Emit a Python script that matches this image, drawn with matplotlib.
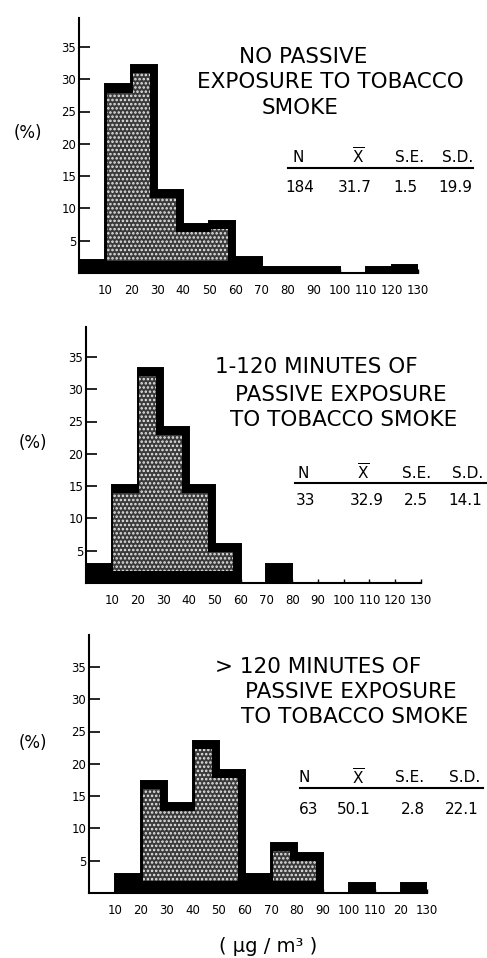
import numpy as np
import matplotlib.pyplot as plt
from matplotlib.lines import Line2D

# bin edges in ug/m3, values are % of subjects per bin
edges = [0, 10, 20, 30, 40, 50, 60, 70, 80, 90, 100, 110, 120, 130]
no_exposure = [2.0, 29.2, 32.2, 12.9, 7.6, 8.1, 2.5, 1.0, 1.0, 1.0, 0.0, 0.9, 1.2]
short_exposure = [3.0, 15.2, 33.3, 24.2, 15.2, 6.1, 0.0, 3.0, 0.0, 0.0, 0.0, 0.0, 0.0]
long_exposure = [0.0, 3.0, 17.4, 14.0, 23.6, 19.1, 3.0, 7.8, 6.2, 0.0, 1.6, 0.0, 1.6]

yticks = [5, 10, 15, 20, 25, 30, 35]
xticks = [10, 20, 30, 40, 50, 60, 70, 80, 90, 100, 110, 120, 130]
xlabels_top = ['10', '20', '30', '40', '50', '60', '70', '80', '90', '100', '110', '120', '130']
xlabels_last = ['10', '20', '30', '40', '50', '60', '70', '80', '90', '100', '110', '20', '130']

titles = [
    ['NO PASSIVE', 'EXPOSURE TO TOBACCO', 'SMOKE'],
    ['1-120 MINUTES OF', 'PASSIVE EXPOSURE', 'TO TOBACCO SMOKE'],
    ['> 120 MINUTES OF', 'PASSIVE EXPOSURE', 'TO TOBACCO SMOKE'],
]
stat_heads = ['N', r'$\overline{\mathrm{X}}$', 'S.E.', 'S.D.']
stats = [
    ['184', '31.7', '1.5', '19.9'],
    ['33', '32.9', '2.5', '14.1'],
    ['63', '50.1', '2.8', '22.1'],
]

W, H = 487, 958
plt.rcParams['font.family'] = ['DejaVu Sans']
plt.rcParams['mathtext.fontset'] = 'dejavusans'
plt.rcParams['hatch.linewidth'] = 1.2

fig = plt.figure(figsize=(W / 100, H / 100), dpi=100)


def fx(px):
    return px / W


def fy(py):
    return 1 - py / H


# axes boxes in pixels: x of 0, x of 130, y of baseline, y of axis top
boxes = [(79, 418, 273, 18), (86, 421, 583, 327), (89, 427, 893, 635)]
px_per_pct = 6.46

# text positions (pixels)
title_pos = [
    [(303, 57), (330, 82), (300, 108)],
    [(316, 367), (341, 395), (344, 420)],
    [(318, 667), (351, 692), (355, 717)],
]
head_y = [157, 473, 778]
line_y = [168, 483, 788]
line_x = [(288, 473), (295, 486), (300, 483)]
val_y = [188, 500, 809]
head_x = [[298, 358, 410, 458], [303, 363, 417, 468], [304, 358, 410, 465]]
val_x = [[300, 355, 405, 455], [306, 367, 416, 465], [309, 354, 413, 462]]
pct_pos = [(28, 133), (33, 443), (33, 743)]

data = [no_exposure, short_exposure, long_exposure]

for k in range(3):
    x0, x1, yb, yt = boxes[k]
    ax = fig.add_axes([fx(x0), fy(yb), (x1 - x0) / W, (yb - yt) / H])
    ax.set_xlim(0, 130)
    ax.set_ylim(0, (yb - yt) / px_per_pct)
    vals = data[k]

    # solid black histogram
    ax.bar(edges[:-1], vals, width=10, align='edge', color='black', linewidth=0, zorder=1)

    # stippled inner area (lighter core of each column)
    dx, dy, band = 2.8, 1.3, 1.8
    xs, tops = [], []
    for i in range(len(vals)):
        nxt = vals[i + 1] if i + 1 < len(vals) else 0
        xs += [edges[i] + 0.6, edges[i + 1] - dx]
        tops += [vals[i] - dy, min(vals[i], nxt) - dy]
    xs.append(130)
    tops.append(0)
    xs = np.array(xs)
    tops = np.array(tops)
    ax.fill_between(xs, band, np.maximum(tops, band), step='post',
                    facecolor='#3a3a3a', edgecolor='#e8e8e8', hatch='....',
                    linewidth=0, zorder=2)

    # outline
    ax.stairs(vals, edges, color='black', linewidth=1.4, zorder=3)

    for s in ['top', 'right']:
        ax.spines[s].set_visible(False)
    ax.spines['left'].set_linewidth(1.5)
    ax.spines['bottom'].set_linewidth(1.5)
    ax.set_yticks(yticks)
    ax.set_yticklabels([str(t) for t in yticks], fontsize=8.5)
    ax.set_xticks(xticks)
    ax.set_xticklabels(xlabels_last if k == 2 else xlabels_top, fontsize=8.5)
    ax.tick_params(axis='y', direction='in', length=8, width=1.2, pad=2)
    ax.tick_params(axis='x', direction='in', length=3, width=1.0, pad=8)
    ax.set_facecolor('none')

    fig.text(fx(pct_pos[k][0]), fy(pct_pos[k][1]), '(%)', fontsize=12,
             ha='center', va='center')

    for line, (tx, ty) in zip(titles[k], title_pos[k]):
        fig.text(fx(tx), fy(ty), line, fontsize=15.5, ha='center', va='center')

    for h, hx in zip(stat_heads, head_x[k]):
        fig.text(fx(hx), fy(head_y[k]), h, fontsize=11, ha='center', va='center')
    for v, vx in zip(stats[k], val_x[k]):
        fig.text(fx(vx), fy(val_y[k]), v, fontsize=11, ha='center', va='center')
    fig.add_artist(Line2D([fx(line_x[k][0]), fx(line_x[k][1])],
                          [fy(line_y[k]), fy(line_y[k])],
                          color='black', linewidth=1.5))

fig.text(fx(268), fy(946), '( μg / m³ )', fontsize=14, ha='center', va='center')

fig.savefig('out.png', dpi=100)
